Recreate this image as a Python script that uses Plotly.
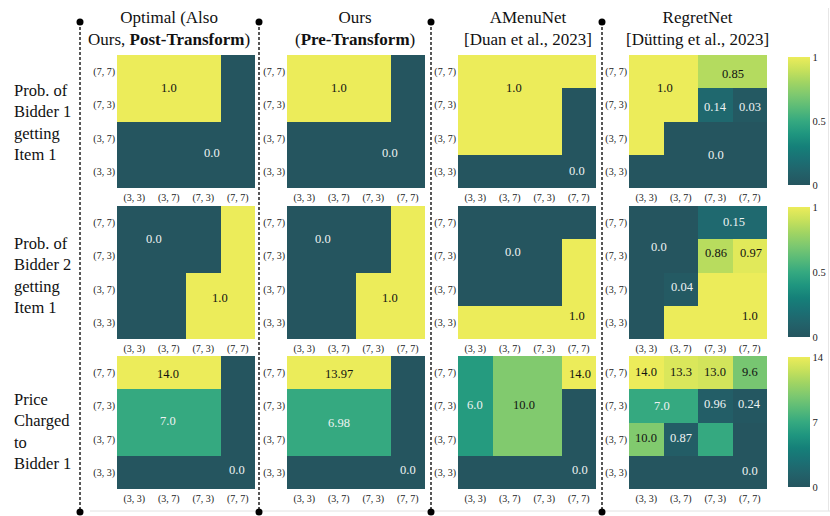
import plotly.graph_objects as go

# ---------------- data ----------------
X_LABELS = ["(3, 3)", "(3, 7)", "(7, 3)", "(7, 7)"]
Y_LABELS = ["(7, 7)", "(7, 3)", "(3, 7)", "(3, 3)"]

COL_TITLES = [
    "Optimal (Also<br>Ours, <b>Post-Transform</b>)",
    "Ours<br>(<b>Pre-Transform</b>)",
    "AMenuNet<br>[Duan et al., 2023]",
    "RegretNet<br>[Dütting et al., 2023]",
]
ROW_TITLES = [
    "Prob. of<br>Bidder 1<br>getting<br>Item 1",
    "Prob. of<br>Bidder 2<br>getting<br>Item 1",
    "Price<br>Charged<br>to<br>Bidder 1",
]

# rows ordered top->bottom as Y_LABELS, columns as X_LABELS
P1_OPT = [[1, 1, 1, 0], [1, 1, 1, 0], [0, 0, 0, 0], [0, 0, 0, 0]]
P1_OURS = [[1, 1, 1, 0], [1, 1, 1, 0], [0, 0, 0, 0], [0, 0, 0, 0]]
P1_AMENU = [[1, 1, 1, 1], [1, 1, 1, 0], [1, 1, 1, 0], [0, 0, 0, 0]]
P1_REGRET = [[1, 1, 0.85, 0.85], [1, 1, 0.14, 0.03], [1, 0, 0, 0], [0, 0, 0, 0]]

P2_OPT = [[0, 0, 0, 1], [0, 0, 0, 1], [0, 0, 1, 1], [0, 0, 1, 1]]
P2_OURS = [[0, 0, 0, 1], [0, 0, 0, 1], [0, 0, 1, 1], [0, 0, 1, 1]]
P2_AMENU = [[0, 0, 0, 0], [0, 0, 0, 1], [0, 0, 0, 1], [1, 1, 1, 1]]
P2_REGRET = [[0, 0, 0.15, 0.15], [0, 0, 0.86, 0.97], [0, 0.04, 1, 1], [0, 1, 1, 1]]

PR_OPT = [[14, 14, 14, 0], [7, 7, 7, 0], [7, 7, 7, 0], [0, 0, 0, 0]]
PR_OURS = [[13.97, 13.97, 13.97, 0], [6.98, 6.98, 6.98, 0], [6.98, 6.98, 6.98, 0], [0, 0, 0, 0]]
PR_AMENU = [[6, 10, 10, 14], [6, 10, 10, 0], [6, 10, 10, 0], [0, 0, 0, 0]]
PR_REGRET = [[14, 13.3, 13.0, 9.6], [7, 7, 0.96, 0.24], [10, 0.87, 7, 0], [0, 0, 0, 0]]

# value labels: (text, column position, row position) in cell index units
L1_OPT = [("1.0", 1.0, 0.5), ("0.0", 2.25, 2.45)]
L1_OURS = [("1.0", 1.0, 0.5), ("0.0", 2.49, 2.45)]
L1_AMENU = [("1.0", 1.12, 0.5), ("0.0", 2.95, 3.0)]
L1_REGRET = [("1.0", 0.54, 0.5), ("0.85", 2.5, 0.07), ("0.14", 2.02, 1.06),
             ("0.03", 3.01, 1.06), ("0.0", 2.02, 2.5)]

L2_OPT = [("0.0", 0.57, 0.49), ("1.0", 2.49, 2.27)]
L2_OURS = [("0.0", 0.54, 0.49), ("1.0", 2.49, 2.27)]
L2_AMENU = [("0.0", 1.09, 0.88), ("1.0", 2.95, 2.81)]
L2_REGRET = [("0.15", 2.54, -0.02), ("0.0", 0.37, 0.73), ("0.86", 2.02, 0.91),
             ("0.97", 3.04, 0.91), ("0.04", 1.05, 1.94), ("1.0", 3.01, 2.81)]

L3_OPT = [("14.0", 0.98, 0.04), ("7.0", 0.98, 1.45), ("0.0", 2.98, 2.93)]
L3_OURS = [("13.97", 1.0, 0.04), ("6.98", 1.0, 1.5), ("0.0", 3.0, 2.93)]
L3_AMENU = [("6.0", 0.0, 0.97), ("10.0", 1.41, 0.97), ("14.0", 3.04, 0.04), ("0.0", 3.04, 2.93)]
L3_REGRET = [("14.0", 0.0, -0.02), ("13.3", 1.0, -0.02), ("13.0", 1.99, -0.02),
             ("9.6", 3.01, -0.02), ("7.0", 0.46, 1.0), ("0.96", 1.99, 0.94),
             ("0.24", 2.99, 0.94), ("10.0", 0.0, 1.97), ("0.87", 1.0, 1.97),
             ("0.0", 3.01, 2.96)]

ROW_MAX = [1, 1, 14]
CB_TICKS = [[0, 0.5, 1], [0, 0.5, 1], [0, 7, 14]]
CB_TEXT = [["0", "0.5", "1"], ["0", "0.5", "1"], ["0", "7", "14"]]

Z = [[P1_OPT, P1_OURS, P1_AMENU, P1_REGRET],
     [P2_OPT, P2_OURS, P2_AMENU, P2_REGRET],
     [PR_OPT, PR_OURS, PR_AMENU, PR_REGRET]]
LABELS = [[L1_OPT, L1_OURS, L1_AMENU, L1_REGRET],
          [L2_OPT, L2_OURS, L2_AMENU, L2_REGRET],
          [L3_OPT, L3_OURS, L3_AMENU, L3_REGRET]]

# ---------------- style / layout ----------------
W, H = 830, 516
FONT = "Liberation Serif"
COL_LEFT = [117, 287, 458, 629]
PW = 138
ROW_TOP = [55, 206, 356]
PH = 133
CB_TOP = [57, 207, 357]
CB_LEN = [128, 130, 130]
SEP_X = [80, 259, 431, 602]
TITLE_X = [169, 355, 528, 697]

CSCALE = [
    [0.0, "#25555F"], [0.1, "#22626A"], [0.2, "#1B7074"], [0.3, "#158079"],
    [0.4, "#1F967F"], [0.5, "#35A980"], [0.6, "#58BA78"], [0.7, "#7CC870"],
    [0.8, "#A0D463"], [0.9, "#C8E15B"], [1.0, "#ECEC5A"],
]

fig = go.Figure()
layout = dict(
    width=W, height=H, autosize=False,
    margin=dict(l=0, r=0, t=0, b=0, autoexpand=False),
    paper_bgcolor="white", plot_bgcolor="white",
    font=dict(family=FONT, color="#111"),
    showlegend=False,
)
annotations = []
shapes = []

for r in range(3):
    ca = "coloraxis" if r == 0 else f"coloraxis{r + 1}"
    layout[ca] = dict(
        cmin=0, cmax=ROW_MAX[r], colorscale=CSCALE,
        colorbar=dict(
            x=788 / W, xanchor="left", y=1 - CB_TOP[r] / H, yanchor="top",
            len=CB_LEN[r], lenmode="pixels", thickness=22, thicknessmode="pixels",
            outlinewidth=0, xpad=0, ypad=0, ticks="", ticklen=0,
            tickvals=CB_TICKS[r], ticktext=CB_TEXT[r],
            tickfont=dict(family=FONT, size=10.5, color="#222"),
        ),
    )
    for c in range(4):
        idx = r * 4 + c + 1
        xa = "x" if idx == 1 else f"x{idx}"
        ya = "y" if idx == 1 else f"y{idx}"
        fig.add_trace(go.Heatmap(
            z=Z[r][c], x=[0, 1, 2, 3], y=[0, 1, 2, 3],
            coloraxis=ca, xaxis=xa, yaxis=ya, hoverinfo="skip",
        ))
        l = COL_LEFT[c]
        t = ROW_TOP[r]
        layout["xaxis" if idx == 1 else f"xaxis{idx}"] = dict(
            domain=[l / W, (l + PW) / W], anchor=ya, range=[-0.5, 3.5],
            tickvals=[0, 1, 2, 3], ticktext=X_LABELS, showgrid=False,
            zeroline=False, ticks="", showline=False, fixedrange=True,
            tickfont=dict(family=FONT, size=10, color="#222"),
            ticklabelstandoff=2,
        )
        layout["yaxis" if idx == 1 else f"yaxis{idx}"] = dict(
            domain=[1 - (t + PH) / H, 1 - t / H], anchor=xa, range=[3.5, -0.5],
            tickvals=[0, 1, 2, 3], ticktext=Y_LABELS, showgrid=False,
            zeroline=False, ticks="", showline=False, fixedrange=True,
            tickfont=dict(family=FONT, size=10, color="#222"),
            ticklabelstandoff=1,
        )
        for txt, px, py in LABELS[r][c]:
            v = float(txt)
            col = "#111111" if v / ROW_MAX[r] > 0.6 else "#EEF3F3"
            annotations.append(dict(
                x=px, y=py, xref=xa, yref=ya, text=txt, showarrow=False,
                font=dict(family=FONT, size=12.5, color=col),
            ))

# column titles
for c in range(4):
    annotations.append(dict(
        x=TITLE_X[c] / W, y=1 - 29 / H, xref="paper", yref="paper",
        text=COL_TITLES[c], showarrow=False, xanchor="center", yanchor="middle",
        font=dict(family=FONT, size=17, color="#111"),
    ))

# row titles
ROW_CENTER = [123, 275, 431]
for r in range(3):
    annotations.append(dict(
        x=12 / W, y=1 - ROW_CENTER[r] / H, xref="paper", yref="paper",
        text=ROW_TITLES[r], showarrow=False, xanchor="left", yanchor="middle",
        align="left", font=dict(family=FONT, size=16.5, color="#111"),
    ))

# faint frame lines
shapes.append(dict(type="line", xref="paper", yref="paper",
                   x0=90 / W, x1=1, y0=1 - 511 / H, y1=1 - 511 / H,
                   line=dict(color="#E2E2E2", width=1)))
shapes.append(dict(type="line", xref="paper", yref="paper",
                   x0=828.5 / W, x1=828.5 / W, y0=1 - 511 / H, y1=1 - 8 / H,
                   line=dict(color="#E6E6E6", width=1)))

# dashed separators with dots
for sx in SEP_X:
    shapes.append(dict(type="line", xref="paper", yref="paper",
                       x0=sx / W, x1=sx / W, y0=1 - 22 / H, y1=1 - 512 / H,
                       line=dict(color="#111", width=1.4, dash="3px,2px")))
    for sy in (22, 512):
        shapes.append(dict(type="circle", xref="paper", yref="paper",
                           xsizemode="pixel", ysizemode="pixel",
                           xanchor=sx / W, yanchor=1 - sy / H,
                           x0=-3.5, x1=3.5, y0=-3.5, y1=3.5,
                           fillcolor="#000", line=dict(color="#000", width=0)))

layout["annotations"] = annotations
layout["shapes"] = shapes
fig.update_layout(**layout)
fig.write_html(
    "out.html",
    config={"displayModeBar": False, "staticPlot": True},
    post_script="document.body.style.margin='0';document.body.style.overflow='hidden';",
)
